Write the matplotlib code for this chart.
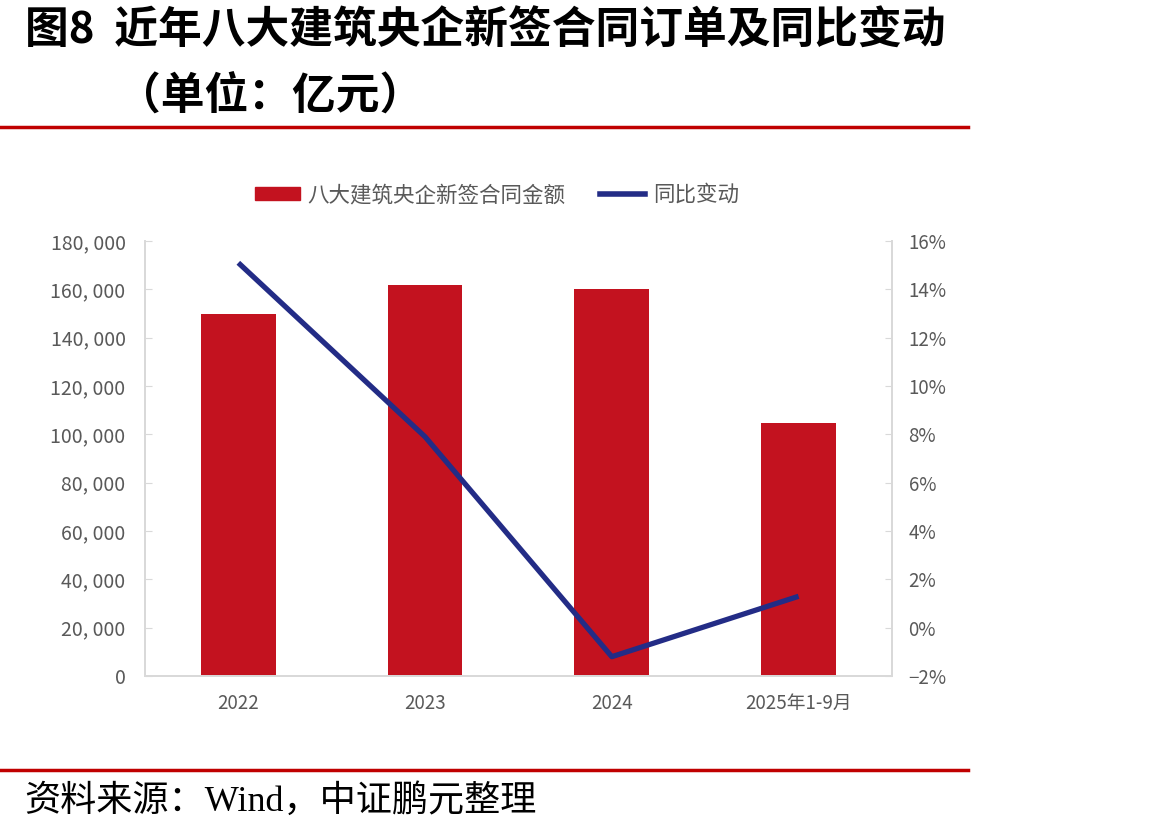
import numpy as np
import matplotlib.pyplot as plt
from matplotlib.lines import Line2D
from matplotlib.patches import Patch

plt.rcParams['font.family'] = ['Noto Sans CJK SC', 'DejaVu Sans']

# Data
categories = ["2022", "2023", "2024", "2025年1-9月"]
amount = [150000, 162000, 160000, 104700]  # 亿元
yoy = [15.1, 7.9, -1.2, 1.3]  # %

bar_color = "#c3121f"
line_color = "#232c86"
grid_gray = "#d9d9d9"
text_gray = "#595959"

fig = plt.figure(figsize=(11.69, 8.30), dpi=100)
ax = fig.add_axes([0.124, 0.1855, 0.639, 0.5241])
ax2 = ax.twinx()

x = np.arange(len(categories))
ax.bar(x, amount, width=0.4, color=bar_color, zorder=2)
ax2.plot(x, yoy, color=line_color, lw=3.8, solid_capstyle="butt", zorder=3)

ax.set_xlim(-0.5, len(categories) - 0.5)
ax.set_ylim(0, 180000)
ax.set_yticks(np.arange(0, 180001, 20000))
ax.set_yticklabels([f"{v:,}".replace(",", ", ") for v in range(0, 180001, 20000)])
ax2.set_ylim(-2, 16)
ax2.set_yticks(np.arange(-2, 17, 2))
ax2.set_yticklabels([f"{v}%".replace("-", "−") for v in range(-2, 17, 2)])

ax.set_xticks(x)
ax.set_xticklabels(categories)

for a in (ax, ax2):
    a.spines["top"].set_visible(False)
    for s in ("left", "right", "bottom"):
        a.spines[s].set_color(grid_gray)
        a.spines[s].set_linewidth(1.3)
    a.tick_params(axis="y", direction="in", length=5, color=grid_gray,
                  labelsize=14, labelcolor=text_gray, pad=14)
ax2.tick_params(axis="y", labelsize=13.5, pad=12)
ax.tick_params(axis="x", length=0, labelsize=13.5, labelcolor=text_gray, pad=12)
ax2.set_zorder(ax.get_zorder() + 1)

# Legend
handles = [Patch(color=bar_color), Line2D([0], [0], color=line_color, lw=4)]
fig.legend(handles, ["八大建筑央企新签合同金额", "同比变动"], loc="center",
           bbox_to_anchor=(0.425, 0.765), ncol=2, frameon=False, fontsize=15.5,
           labelcolor=text_gray, handlelength=2.1, handleheight=0.55,
           columnspacing=1.6, handletextpad=0.35)

# Title and source
fig.text(0.021, 0.963, "图8  近年八大建筑央企新签合同订单及同比变动", fontsize=31.5,
         fontweight="bold", va="center", ha="left", color="black")
fig.text(0.100, 0.885, "（单位：亿元）", fontsize=31.5, fontweight="bold",
         va="center", ha="left", color="black")
fig.add_artist(Line2D([0, 0.828], [0.847, 0.847], color="#c00000", lw=2.5))
fig.add_artist(Line2D([0, 0.828], [0.072, 0.072], color="#c00000", lw=2.5))
fig.text(0.021, 0.035, "资料来源：Wind，中证鹏元整理", fontsize=26,
         family=["Liberation Serif", "Noto Sans CJK SC"], va="center", ha="left",
         color="black")

fig.savefig("out.png", dpi=100)
